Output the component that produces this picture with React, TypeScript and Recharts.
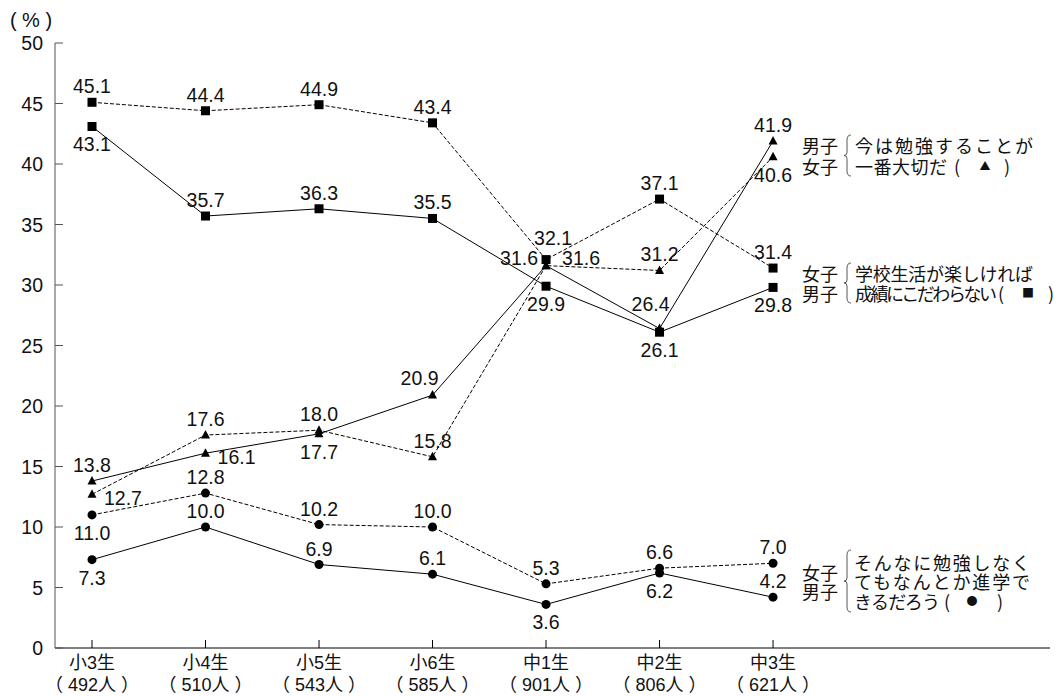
import React from 'react';
import { LineChart, Line, XAxis, YAxis, LabelList } from 'recharts';

// Grades on the horizontal axis and number of respondents per grade
const grades = ['小3生', '小4生', '小5生', '小6生', '中1生', '中2生', '中3生'];
const counts = ['492', '510', '543', '585', '901', '806', '621'];
const yTicks = [0, 5, 10, 15, 20, 25, 30, 35, 40, 45, 50];

// 今は勉強することが一番大切だ (▲)
const studyBoys = [13.8, 16.1, 17.7, 20.9, 31.6, 26.4, 41.9];
const studyGirls = [12.7, 17.6, 18.0, 15.8, 31.6, 31.2, 40.6];
// 学校生活が楽しければ成績にこだわらない (■)
const funGirls = [45.1, 44.4, 44.9, 43.4, 32.1, 37.1, 31.4];
const funBoys = [43.1, 35.7, 36.3, 35.5, 29.9, 26.1, 29.8];
// そんなに勉強しなくてもなんとか進学できるだろう (●)
const easyGirls = [11.0, 12.8, 10.2, 10.0, 5.3, 6.6, 7.0];
const easyBoys = [7.3, 10.0, 6.9, 6.1, 3.6, 6.2, 4.2];

// where each value label sits relative to its marker
const studyBoysPlace = ['above', 'right', 'below', 'aboveLeft', 'left', 'upLeft', 'above'];
const studyGirlsPlace = ['right', 'above', 'above', 'above', 'rightUp', 'above', 'below'];
const funGirlsPlace = ['above', 'above', 'above', 'above', 'aboveRight', 'above', 'above'];
const funBoysPlace = ['below', 'above', 'above', 'above', 'below', 'below', 'below'];
const easyGirlsPlace = ['below', 'above', 'above', 'above', 'above', 'above', 'above'];
const easyBoysPlace = ['below', 'above', 'above', 'above', 'below', 'below', 'above'];

const rows = grades.map((g, i) => ({
  idx: i,
  grade: g,
  studyBoys: studyBoys[i],
  studyGirls: studyGirls[i],
  funGirls: funGirls[i],
  funBoys: funBoys[i],
  easyGirls: easyGirls[i],
  easyBoys: easyBoys[i],
}));

const LATIN = '"Liberation Sans", Arial, "Noto Sans CJK JP", sans-serif';
const JP = '"Noto Sans CJK JP", sans-serif';

const OFFSETS: Record<string, [number, number]> = {
  above: [0, -16],
  below: [0, 18],
  right: [31, 4],
  rightUp: [35, -8],
  left: [-27, -8],
  aboveRight: [7, -22],
  aboveLeft: [-13, -17],
  upLeft: [-9, -25],
};

const makeLabel = (places: string[]) => (p: any) => {
  const [dx, dy] = OFFSETS[places[p.index]] || [0, -16];
  return (
    <text
      key={`l${p.index}`}
      x={p.x + dx}
      y={p.y + dy}
      textAnchor="middle"
      dominantBaseline="central"
      fontSize={19.5}
      fontFamily={LATIN}
      fill="#111"
    >
      {Number(p.value).toFixed(1)}
    </text>
  );
};

const squareDot = (p: any) => (
  <rect key={`s${p.index}`} x={p.cx - 4.5} y={p.cy - 4.5} width={9} height={9} fill="#000" />
);
const triangleDot = (p: any) => (
  <polygon
    key={`t${p.index}`}
    points={`${p.cx},${p.cy - 5} ${p.cx + 4.5},${p.cy + 3.5} ${p.cx - 4.5},${p.cy + 3.5}`}
    fill="#000"
  />
);
const circleDot = (p: any) => <circle key={`c${p.index}`} cx={p.cx} cy={p.cy} r={4.5} fill="#000" />;

const GradeTick = (props: any) => {
  const { x, y, payload } = props;
  const i = payload.value as number;
  return (
    <g>
      <line x1={x} x2={x} y1={y} y2={y - 8} stroke="#000" />
      <text x={x} y={y + 15} textAnchor="middle" dominantBaseline="central" fontSize={18} fontFamily={LATIN} fill="#111">
        {grades[i]}
      </text>
      <text x={x} y={y + 37} textAnchor="middle" dominantBaseline="central" fontSize={18} fontFamily={LATIN} fill="#111">
        {`（ ${counts[i]}人 ）`}
      </text>
    </g>
  );
};

const PctTick = (props: any) => {
  const { x, y, payload } = props;
  return (
    <g>
      <line x1={x + 12} x2={x + 20} y1={y} y2={y} stroke="#555" />
      <text x={x} y={y} textAnchor="end" dominantBaseline="central" fontSize={19.5} fontFamily={LATIN} fill="#111">
        {payload.value}
      </text>
    </g>
  );
};

const brace = (x: number, y1: number, y2: number) => {
  const m = (y1 + y2) / 2;
  return `M ${x + 4} ${y1} Q ${x} ${y1} ${x} ${y1 + 5} L ${x} ${m - 3} Q ${x} ${m} ${x - 3} ${m} Q ${x} ${m} ${x} ${m + 3} L ${x} ${y2 - 5} Q ${x} ${y2} ${x + 4} ${y2}`;
};

const T = (props: any) => (
  <text dominantBaseline="central" fontSize={18} fontFamily={JP} fill="#111" {...props} />
);

const Legends = () => (
  <svg width={1063} height={696} style={{ position: 'absolute', left: 0, top: 0, pointerEvents: 'none' }}>
    <text x={31} y={20} textAnchor="middle" dominantBaseline="central" fontSize={20} fontFamily={LATIN} fill="#111">
      ( % )
    </text>

    {/* ▲ */}
    <T x={802} y={145}>男子</T>
    <T x={802} y={166}>女子</T>
    <path d={brace(847, 135, 176)} stroke="#444" fill="none" strokeWidth={0.9} />
    <T x={855} y={145} textLength={178} lengthAdjust="spacing">今は勉強することが</T>
    <T x={855} y={166} textLength={92} lengthAdjust="spacing">一番大切だ</T>
    <T x={957} y={166} textAnchor="middle">(</T>
    <T x={985} y={165} textAnchor="middle" fontSize={11}>▲</T>
    <T x={1007} y={166} textAnchor="middle">)</T>

    {/* ■ */}
    <T x={802} y={273}>女子</T>
    <T x={802} y={293}>男子</T>
    <path d={brace(847, 263, 303)} stroke="#444" fill="none" strokeWidth={0.9} />
    <T x={855} y={273} textLength={178} lengthAdjust="spacing">学校生活が楽しければ</T>
    <T x={855} y={293} textLength={142} lengthAdjust="spacing">成績にこだわらない</T>
    <T x={1001} y={293} textAnchor="middle">(</T>
    <T x={1028} y={292} textAnchor="middle" fontSize={12}>■</T>
    <T x={1051} y={293} textAnchor="middle">)</T>

    {/* ● */}
    <T x={802} y={572}>女子</T>
    <T x={802} y={591}>男子</T>
    <path d={brace(847, 550, 612)} stroke="#444" fill="none" strokeWidth={0.9} />
    <T x={854} y={562} textLength={176} lengthAdjust="spacing">そんなに勉強しなく</T>
    <T x={854} y={581} textLength={176} lengthAdjust="spacing">てもなんとか進学で</T>
    <T x={854} y={601} textLength={86} lengthAdjust="spacing">きるだろう</T>
    <T x={947} y={601} textAnchor="middle">(</T>
    <T x={972} y={600} textAnchor="middle" fontSize={11}>●</T>
    <T x={1000} y={601} textAnchor="middle">)</T>
  </svg>
);

export default function App() {
  return (
    <div style={{ position: 'absolute', left: 0, top: 0, width: 1063, height: 696, background: '#fff' }}>
      <LineChart
        width={1063}
        height={696}
        data={rows}
        margin={{ top: 43, right: 13, bottom: 18, left: 0 }}
      >
        <XAxis
          dataKey="idx"
          type="number"
          domain={[-0.326, 8.44]}
          ticks={[0, 1, 2, 3, 4, 5, 6]}
          tick={<GradeTick />}
          tickSize={0}
          tickMargin={0}
          height={30}
          axisLine={{ stroke: '#000' }}
          interval={0}
        />
        <YAxis
          domain={[0, 50]}
          ticks={yTicks}
          tick={<PctTick />}
          tickSize={0}
          tickMargin={12}
          width={55}
          axisLine={{ stroke: '#555' }}
          interval={0}
        />

        <Line dataKey="funGirls" stroke="#000" strokeWidth={1} strokeDasharray="4 2" dot={squareDot} activeDot={false} isAnimationActive={false}>
          <LabelList dataKey="funGirls" content={makeLabel(funGirlsPlace)} />
        </Line>
        <Line dataKey="funBoys" stroke="#000" strokeWidth={1} dot={squareDot} activeDot={false} isAnimationActive={false}>
          <LabelList dataKey="funBoys" content={makeLabel(funBoysPlace)} />
        </Line>
        <Line dataKey="studyGirls" stroke="#000" strokeWidth={1} strokeDasharray="4 2" dot={triangleDot} activeDot={false} isAnimationActive={false}>
          <LabelList dataKey="studyGirls" content={makeLabel(studyGirlsPlace)} />
        </Line>
        <Line dataKey="studyBoys" stroke="#000" strokeWidth={1} dot={triangleDot} activeDot={false} isAnimationActive={false}>
          <LabelList dataKey="studyBoys" content={makeLabel(studyBoysPlace)} />
        </Line>
        <Line dataKey="easyGirls" stroke="#000" strokeWidth={1} strokeDasharray="4 2" dot={circleDot} activeDot={false} isAnimationActive={false}>
          <LabelList dataKey="easyGirls" content={makeLabel(easyGirlsPlace)} />
        </Line>
        <Line dataKey="easyBoys" stroke="#000" strokeWidth={1} dot={circleDot} activeDot={false} isAnimationActive={false}>
          <LabelList dataKey="easyBoys" content={makeLabel(easyBoysPlace)} />
        </Line>
      </LineChart>
      <Legends />
    </div>
  );
}
